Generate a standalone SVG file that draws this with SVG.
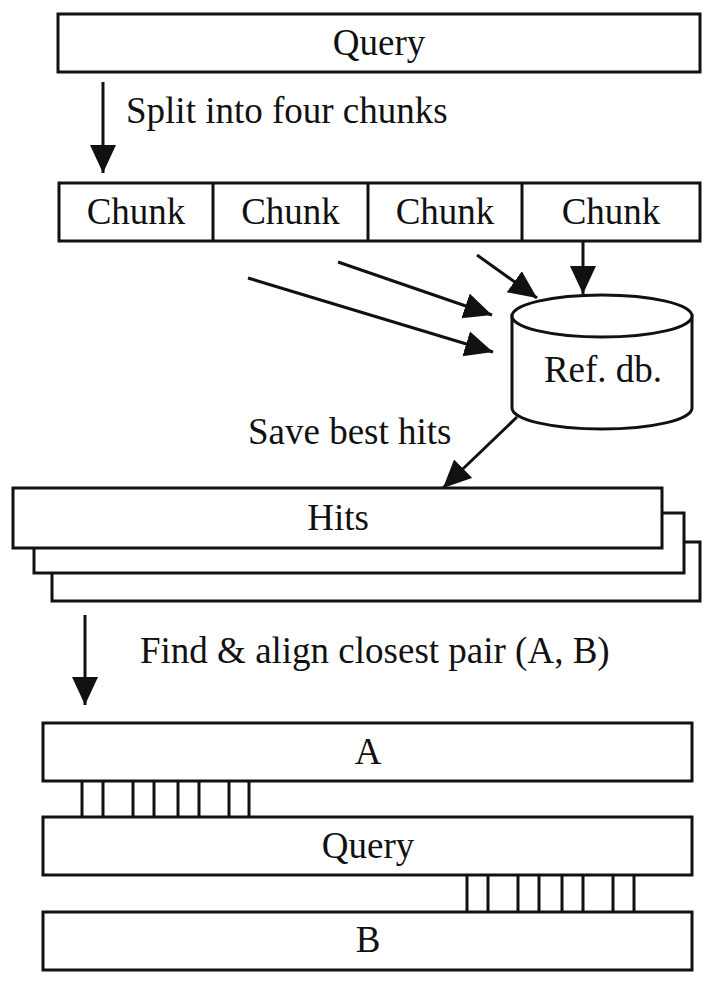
<svg xmlns="http://www.w3.org/2000/svg" width="717" height="984" viewBox="0 0 717 984">
<style>
.box{fill:#fff;stroke:#111;stroke-width:3}
.ln{fill:none;stroke:#111;stroke-width:3}
.t{font-family:"Liberation Serif","Times New Roman",serif;font-size:37px;fill:#111}
.c{text-anchor:middle}
</style>
<defs>
<marker id="ah" markerUnits="userSpaceOnUse" markerWidth="30" markerHeight="28" refX="28" refY="13" orient="auto">
<path d="M0,0 L28,13 L0,26 z" fill="#111"/>
</marker>
</defs>
<rect width="717" height="984" fill="#fff"/>

<g id="query-top">
<rect class="box" x="58" y="14" width="642" height="58"/>
<text class="t c" x="379" y="55">Query</text>
</g>

<text class="t" x="126" y="123">Split into four chunks</text>

<g id="chunks">
<rect class="box" x="59" y="183" width="641" height="58"/>
<line class="ln" x1="213" y1="183" x2="213" y2="241"/>
<line class="ln" x1="368" y1="183" x2="368" y2="241"/>
<line class="ln" x1="522" y1="183" x2="522" y2="241"/>
<text class="t c" x="136" y="224">Chunk</text>
<text class="t c" x="290.5" y="224">Chunk</text>
<text class="t c" x="445" y="224">Chunk</text>
<text class="t c" x="611" y="224">Chunk</text>
</g>

<g id="refdb">
<path class="box" d="M512,316 L512,408 A90,21 0 0 0 692,408 L692,316 Z"/>
<ellipse class="box" cx="602" cy="316" rx="90" ry="21"/>
<text class="t c" x="603" y="382">Ref. db.</text>
</g>

<text class="t" x="248" y="444">Save best hits</text>

<g id="hits">
<rect class="box" x="52" y="542" width="648" height="59"/>
<rect class="box" x="34" y="513" width="650" height="60"/>
<rect class="box" x="13" y="488" width="649" height="60"/>
<text class="t c" x="338" y="530">Hits</text>
</g>

<text class="t" x="140" y="663">Find &amp; align closest pair (A, B)</text>

<g id="align-A">
<rect class="box" x="43" y="723" width="649" height="58"/>
<text class="t c" x="368" y="764">A</text>
</g>
<g id="align-query">
<rect class="box" x="43" y="817" width="649" height="58"/>
<text class="t c" x="368" y="858">Query</text>
</g>
<g id="align-B">
<rect class="box" x="43" y="912" width="649" height="58"/>
<text class="t c" x="368" y="952">B</text>
</g>

<g id="matches">
<path class="ln" d="M82,781V817M103,781V817M133,781V817M154,781V817M178,781V817M199,781V817M229,781V817M249,781V817"/>
<path class="ln" d="M467,875V912M488,875V912M518,875V912M539,875V912M562,875V912M583,875V912M613,875V912M634,875V912"/>
</g>

<g id="connectors">
<line class="ln" x1="103" y1="82" x2="103" y2="173" marker-end="url(#ah)"/>
<line class="ln" x1="583" y1="241" x2="583" y2="294" marker-end="url(#ah)"/>
<line class="ln" x1="477" y1="255" x2="537" y2="298" marker-end="url(#ah)"/>
<line class="ln" x1="338" y1="262" x2="492" y2="315" marker-end="url(#ah)"/>
<line class="ln" x1="248" y1="278" x2="493" y2="352" marker-end="url(#ah)"/>
<line class="ln" x1="517" y1="417" x2="443" y2="488" marker-end="url(#ah)"/>
<line class="ln" x1="85" y1="615" x2="85" y2="705" marker-end="url(#ah)"/>
</g>
</svg>
